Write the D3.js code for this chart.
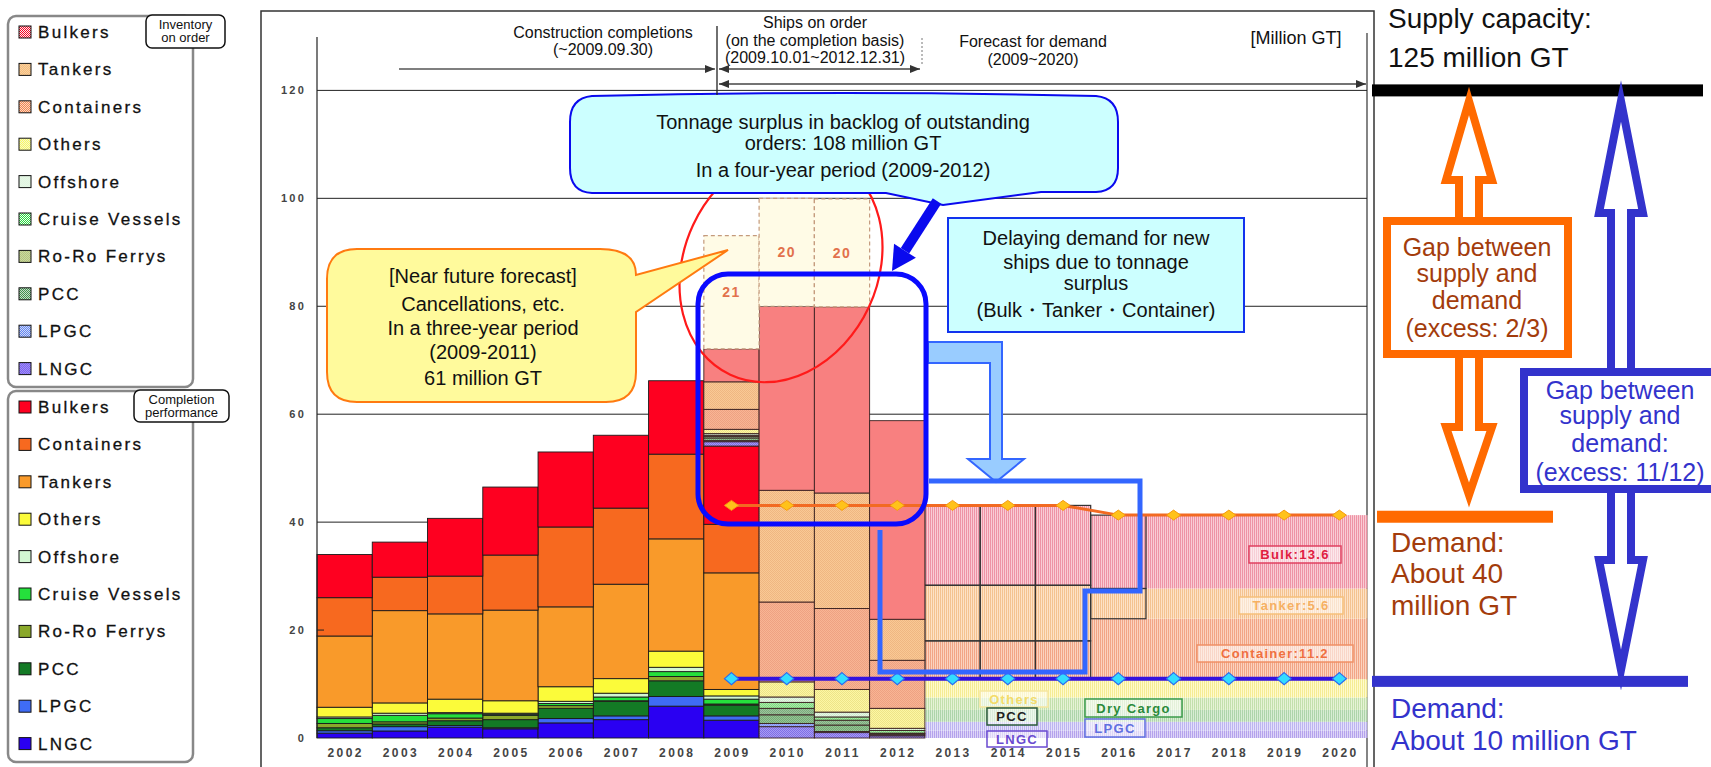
<!DOCTYPE html>
<html>
<head>
<meta charset="utf-8">
<script src="https://cdn.jsdelivr.net/npm/d3@7"></script>
<style>
  body { margin: 0; background: #fff; }
  svg { display: block; font-family: "Liberation Sans", Arial, sans-serif; }
</style>
</head>
<body>
<svg id="chart" width="1711" height="767"></svg>
<script>
// ---- data (million GT) ----
var years = ["2002","2003","2004","2005","2006","2007","2008","2009","2010","2011",
             "2012","2013","2014","2015","2016","2017","2018","2019","2020"];
var yTicks = [0, 20, 40, 60, 80, 100, 120];

// completions 2002-2009
var compYears      = ["2002","2003","2004","2005","2006","2007","2008","2009"];
var compLNGC       = [0.9, 1.3, 2.0, 1.7, 2.8, 3.4, 5.9, 3.3];
var compLPGC       = [0.45,0.8, 0.3, 0.2, 0.8, 0.7, 1.8, 0.8];
var compPCC        = [0.55,0.5, 0.9, 1.5, 1.9, 2.7, 2.9, 2.0];
var compRoRo       = [0.8, 0.4, 0.5, 0.8, 0.5, 0.1, 0.8, 0.2];
var compCruise     = [0.9, 1.2, 0.8, 0.2, 0.4, 0.7, 0.9, 0.9];
var compOffshore   = [0.3, 0.4, 0.2, 0.2, 0.4, 0.7, 0.8, 0.6];
var compOthers     = [1.8, 1.9, 2.5, 2.3, 2.7, 2.7, 3.0, 1.2];
var compTankers    = [13.2,17.1,15.8,16.8,14.8,17.5,20.8,21.6];
var compContainers = [7.1, 6.2, 7.0, 10.2,14.8,14.1,15.7,9.0];
var compBulkers    = [8.0, 6.5, 10.7,12.6,13.9,13.5,13.6,14.5];

// ships on order 2009-2012
var orderYears      = ["2009","2010","2011","2012"];
var orderLNGC       = [0.8, 2.1, 1.0, 0.4];
var orderLPGC       = [0.2, 0.6, 0.2, 0.2];
var orderPCC        = [0.5, 1.6, 1.2, 0.2];
var orderRoRo       = [0.3, 1.2, 0.9, 0.1];
var orderCruise     = [0.2, 1.1, 0.6, 0.5];
var orderOffshore   = [0.3, 1.0, 0.9, 0.4];
var orderOthers     = [0.8, 2.8, 4.2, 3.7];
var orderContainers = [3.7, 14.8,15.0,8.9];
var orderTankers    = [5.1, 20.7,21.4,7.6];
var orderBulkers    = [6.1, 34.1,34.5,36.8];
var cancelled       = [21, 20, 20, 0];

// demand forecast lines 2009-2020
var demandYears = ["2009","2010","2011","2012","2013","2014","2015","2016","2017","2018","2019","2020"];
var demandHigh  = [43.1,43.1,43.1,43.1,43.1,43.1,43.1,41.3,41.3,41.3,41.3,41.3];
var demandLow   = [11,11,11,11,11,11,11,11,11,11,11,11];

// demand forecast by type 2013-2020
var fcYears     = ["2013","2014","2015","2016","2017","2018","2019","2020"];
var fcLNGC      = [1.4,1.4,1.4,1.4,1.4,1.4,1.4,1.4];
var fcLPGC      = [1.6,1.6,1.6,1.6,1.6,1.6,1.6,1.6];
var fcPCC       = [2.2,2.2,2.2,2.2,2.2,2.2,2.2,2.2];
var fcDry       = [2.3,2.3,2.3,2.3,2.3,2.3,2.3,2.3];
var fcOthers    = [3.4,3.4,3.4,3.4,3.4,3.4,3.4,3.4];
var fcContainer = [7.1,7.1,7.1,11.2,11.2,11.2,11.2,11.2];
var fcTanker    = [10.3,10.3,10.3,5.6,5.6,5.6,5.6,5.6];
var fcBulk      = [14.8,14.8,14.8,13.6,13.6,13.6,13.6,13.6];

var orderLegend = ["Bulkers","Tankers","Containers","Others","Offshore","Cruise Vessels","Ro-Ro Ferrys","PCC","LPGC","LNGC"];
var compLegend  = ["Bulkers","Containers","Tankers","Others","Offshore","Cruise Vessels","Ro-Ro Ferrys","PCC","LPGC","LNGC"];

// ---- styles ----
var legendKey = {"Bulkers":"Bulkers","Tankers":"Tankers","Containers":"Containers","Others":"Others",
  "Offshore":"Offshore","Cruise Vessels":"Cruise","Ro-Ro Ferrys":"RoRo","PCC":"PCC","LPGC":"LPGC","LNGC":"LNGC"};
var compColor = {LNGC:"#2a00f2", LPGC:"#3f6cf5", PCC:"#137a25", RoRo:"#8aa82a", Cruise:"#25e03c",
  Offshore:"#d2f7d2", Others:"#fbfb3a", Tankers:"#f99a2a", Containers:"#f7691f", Bulkers:"#fe0020"};
var orderColor = {LNGC:["#a89cf2","#7f6ee6"], LPGC:["#a4b2fa","#7e90f0"], PCC:["#95c495","#74aa74"],
  RoRo:["#9cc49c","#7cac7c"], Cruise:["#a8eca8","#84d884"], Offshore:["#e8f8e4","#cfe9cf"],
  Others:["#fcf7a4","#eee488"], Containers:["#f8b594","#eea182"], Tankers:["#f9c995","#efb682"],
  Bulkers:["#f88080","#f47474"]};
var fcColor = {LNGC:["#ddd5f7","#b4a2ec"], LPGC:["#e3e0fa","#bdb4f0"], PCC:["#d8edd4","#aed4aa"],
  Dry:["#e6f3d6","#c3e0ac"], Others:["#fffbcc","#f5ec94"], Container:["#fbd3bf","#f2a586"],
  Tanker:["#fde2c6","#f4c290"], Bulk:["#f9ccd5","#ee93a5"]};

var svg = d3.select("#chart");
var defs = svg.append("defs");

function checker(id, bg, fg){
  var p = defs.append("pattern").attr("id", id).attr("width", 2).attr("height", 2)
    .attr("patternUnits", "userSpaceOnUse");
  p.append("rect").attr("width", 2).attr("height", 2).attr("fill", bg);
  p.append("rect").attr("width", 1).attr("height", 1).attr("fill", fg);
  p.append("rect").attr("x", 1).attr("y", 1).attr("width", 1).attr("height", 1).attr("fill", fg);
}
function stripes(id, bg, fg){
  var p = defs.append("pattern").attr("id", id).attr("width", 2).attr("height", 4)
    .attr("patternUnits", "userSpaceOnUse");
  p.append("rect").attr("width", 2).attr("height", 4).attr("fill", bg);
  p.append("rect").attr("width", 1).attr("height", 4).attr("fill", fg);
}
Object.keys(orderColor).forEach(function(k){ checker("ord-" + k, orderColor[k][0], orderColor[k][1]); });
Object.keys(compColor).forEach(function(k){ checker("leg-" + k, "#f4f4f4", compColor[k]); });
Object.keys(fcColor).forEach(function(k){ stripes("fc-" + k, fcColor[k][0], fcColor[k][1]); });

defs.append("marker").attr("id", "arr").attr("viewBox", "0 0 10 8")
  .attr("markerWidth", 10).attr("markerHeight", 8).attr("refX", 10).attr("refY", 4)
  .attr("markerUnits", "userSpaceOnUse").attr("orient", "auto-start-reverse")
  .append("path").attr("d", "M0,0L10,4L0,8Z").attr("fill", "#333");

// ---- scales ----
var x = d3.scaleBand().domain(years).range([317, 1367]).padding(0);
var y = d3.scaleLinear().domain([0, 120]).range([738, 90.4]);
var bw = x.bandwidth();
function cx(yr){ return x(yr) + bw / 2; }

// ---- frame, grid ----
svg.append("rect").attr("x", 261).attr("y", 11).attr("width", 1113).attr("height", 770)
  .attr("fill", "none").attr("stroke", "#333").attr("stroke-width", 1.5);
svg.append("line").attr("x1", 1367).attr("x2", 1367).attr("y1", 33).attr("y2", 767)
  .attr("stroke", "#333").attr("stroke-width", 1.2);

svg.append("g").selectAll("line").data(yTicks.slice(1)).join("line")
  .attr("x1", 317).attr("x2", 1367).attr("y1", function(d){ return y(d); }).attr("y2", function(d){ return y(d); })
  .attr("stroke", "#222").attr("stroke-width", 1);

// ---- forecast demand bands 2013-2020 ----
var fcKeys = ["LNGC","LPGC","PCC","Dry","Others","Container","Tanker","Bulk"];
var fcSeries = {LNGC:fcLNGC, LPGC:fcLPGC, PCC:fcPCC, Dry:fcDry, Others:fcOthers,
  Container:fcContainer, Tanker:fcTanker, Bulk:fcBulk};
var fcRows = fcYears.map(function(yr, i){
  var r = {year: yr};
  fcKeys.forEach(function(k){ r[k] = fcSeries[k][i]; });
  return r;
});
var fcStack = d3.stack().keys(fcKeys)(fcRows);

svg.append("g").selectAll("g").data(fcStack).join("g")
  .attr("fill", function(d){ return "url(#fc-" + d.key + ")"; })
  .selectAll("rect").data(function(d){ return d; }).join("rect")
  .attr("x", function(d){ return x(d.data.year) - 0.5; })
  .attr("width", bw + 1)
  .attr("y", function(d){ return y(d[1]); })
  .attr("height", function(d){ return y(d[0]) - y(d[1]); });

// outlined boxes for the first forecast years
var outlineYears = ["2013","2014","2015","2016"];
svg.append("g").selectAll("g").data(fcStack.filter(function(s){ return s.key == "Container" || s.key == "Tanker" || s.key == "Bulk"; }))
  .join("g").selectAll("rect")
  .data(function(s){ return s.filter(function(d){
    return outlineYears.indexOf(d.data.year) >= 0 && !(s.key == "Container" && d.data.year == "2016"); }); })
  .join("rect")
  .attr("x", function(d){ return x(d.data.year); }).attr("width", bw)
  .attr("y", function(d){ return y(d[1]); })
  .attr("height", function(d){ return y(d[0]) - y(d[1]); })
  .attr("fill", "none").attr("stroke", "#333").attr("stroke-width", 1.2);

// ---- completion bars ----
var compKeys = ["LNGC","LPGC","PCC","RoRo","Cruise","Offshore","Others","Tankers","Containers","Bulkers"];
var compSeries = {LNGC:compLNGC, LPGC:compLPGC, PCC:compPCC, RoRo:compRoRo, Cruise:compCruise,
  Offshore:compOffshore, Others:compOthers, Tankers:compTankers, Containers:compContainers, Bulkers:compBulkers};
var compRows = compYears.map(function(yr, i){
  var r = {year: yr};
  compKeys.forEach(function(k){ r[k] = compSeries[k][i]; });
  return r;
});
var compStack = d3.stack().keys(compKeys)(compRows);
var compTotal = {};
compRows.forEach(function(r){ compTotal[r.year] = d3.sum(compKeys, function(k){ return r[k]; }); });

svg.append("g").selectAll("g").data(compStack).join("g")
  .attr("fill", function(d){ return compColor[d.key]; })
  .selectAll("rect").data(function(d){ return d; }).join("rect")
  .attr("x", function(d){ return x(d.data.year); }).attr("width", bw)
  .attr("y", function(d){ return y(d[1]); })
  .attr("height", function(d){ return y(d[0]) - y(d[1]); })
  .attr("stroke", "#1a1a1a").attr("stroke-width", 0.9);

// ---- ships on order ----
var orderKeys = ["LNGC","LPGC","PCC","RoRo","Cruise","Offshore","Others","Containers","Tankers","Bulkers"];
var orderSeries = {LNGC:orderLNGC, LPGC:orderLPGC, PCC:orderPCC, RoRo:orderRoRo, Cruise:orderCruise,
  Offshore:orderOffshore, Others:orderOthers, Containers:orderContainers, Tankers:orderTankers, Bulkers:orderBulkers};
var orderRows = orderYears.map(function(yr, i){
  var r = {year: yr};
  orderKeys.forEach(function(k){ r[k] = orderSeries[k][i]; });
  return r;
});
var orderStack = d3.stack().keys(orderKeys)(orderRows);
function base(yr){ return compTotal[yr] || 0; }

svg.append("g").selectAll("g").data(orderStack).join("g")
  .attr("fill", function(d){ return d.key == "Bulkers" ? orderColor.Bulkers[0] : "url(#ord-" + d.key + ")"; })
  .selectAll("rect").data(function(d){ return d; }).join("rect")
  .attr("x", function(d){ return x(d.data.year); }).attr("width", bw)
  .attr("y", function(d){ return y(d[1] + base(d.data.year)); })
  .attr("height", function(d){ return y(d[0]) - y(d[1]); })
  .attr("stroke", "#3a2020").attr("stroke-width", 0.9);

// cancellations (dashed)
var orderTop = orderRows.map(function(r){ return base(r.year) + d3.sum(orderKeys, function(k){ return r[k]; }); });
var cancelRows = orderYears.map(function(yr, i){ return {year: yr, lo: orderTop[i], hi: orderTop[i] + cancelled[i], v: cancelled[i]}; })
  .filter(function(d){ return d.v > 0; });
svg.append("g").selectAll("rect").data(cancelRows).join("rect")
  .attr("x", function(d){ return x(d.year); }).attr("width", bw)
  .attr("y", function(d){ return y(d.hi); })
  .attr("height", function(d){ return y(d.lo) - y(d.hi); })
  .attr("fill", "#fffbe6").attr("stroke", "#c49a7c").attr("stroke-width", 1.2).attr("stroke-dasharray", "4,3");
svg.append("g").selectAll("text").data(cancelRows).join("text")
  .attr("x", function(d){ return cx(d.year); })
  .attr("y", function(d){ return y((d.lo + d.hi) / 2) + 5; })
  .attr("text-anchor", "middle").attr("font-size", 14).attr("font-weight", "bold")
  .attr("letter-spacing", 1.5).attr("fill", "#e2714c")
  .text(function(d){ return d.v; });

// ---- forecast band labels ----
function tag(txt, x0, y0, w, h, col, border){
  var g = svg.append("g");
  g.append("rect").attr("x", x0).attr("y", y0).attr("width", w).attr("height", h)
    .attr("fill", "rgba(255,255,255,0.55)").attr("stroke", border).attr("stroke-width", 1.5);
  g.append("text").attr("x", x0 + w / 2).attr("y", y0 + h / 2 + 4.5).attr("text-anchor", "middle")
    .attr("font-size", 13).attr("font-weight", "bold").attr("letter-spacing", 1.3)
    .attr("fill", col).text(txt);
}
tag("Bulk:13.6", 1249, 546, 92, 17, "#e02040", "#e04060");
tag("Tanker:5.6", 1239, 597, 104, 17, "#f6b062", "#f6c07a");
tag("Container:11.2", 1197, 645, 156, 17, "#f07040", "#f09066");
tag("Others", 980, 691, 68, 16, "#f4dc6a", "#f6e6a0");
tag("PCC", 987, 708, 50, 17, "#222", "#2a5a3a");
tag("LNGC", 987, 731, 60, 16, "#6a4ad0", "#6a4ad0");
tag("Dry Cargo", 1085, 699, 97, 18, "#2a8a3a", "#3a9a4a");
tag("LPGC", 1085, 719, 60, 18, "#6070e0", "#6070e0");

// ---- demand lines ----
var line = d3.line().x(function(d){ return cx(d.year); }).y(function(d){ return y(d.v); });
var highPts = demandYears.map(function(yr, i){ return {year: yr, v: demandHigh[i]}; });
var lowPts = demandYears.map(function(yr, i){ return {year: yr, v: demandLow[i]}; });

// light-blue bent arrow (behind the big overlays)
svg.append("path")
  .attr("d", "M928,342H1002V459H1024L996,482L968,459H990V363H928Z")
  .attr("fill", "#99ccff").attr("stroke", "#3366ff").attr("stroke-width", 2);

svg.append("path").attr("d", line(highPts)).attr("fill", "none").attr("stroke", "#f26a22").attr("stroke-width", 3);
svg.append("path").attr("d", line(lowPts)).attr("fill", "none").attr("stroke", "#3311dd").attr("stroke-width", 4);
svg.append("g").selectAll("path").data(highPts).join("path")
  .attr("d", "M0,-5L7,0L0,5L-7,0Z")
  .attr("transform", function(d){ return "translate(" + cx(d.year) + "," + y(d.v) + ")"; })
  .attr("fill", "#ffc21a").attr("stroke", "#f59a10").attr("stroke-width", 1);
svg.append("g").selectAll("path").data(lowPts).join("path")
  .attr("d", "M0,-6L7,0L0,6L-7,0Z")
  .attr("transform", function(d){ return "translate(" + cx(d.year) + "," + y(d.v) + ")"; })
  .attr("fill", "#33ddff").attr("stroke", "#2a6cf0").attr("stroke-width", 1.2);

svg.append("path").attr("d", "M929,481H1140V591H1085V672H880V530")
  .attr("fill", "none").attr("stroke", "#3366ff").attr("stroke-width", 5);

// ---- axes ----
var yAxis = svg.append("g").attr("transform", "translate(306,0)")
  .call(d3.axisLeft(y).tickValues(yTicks).tickSize(0).tickPadding(0));
yAxis.select(".domain").remove();
yAxis.selectAll("text").attr("font-family", "'Liberation Sans', Arial, sans-serif")
  .attr("font-size", 11).attr("font-weight", "bold").attr("letter-spacing", 2.2).attr("fill", "#444");
svg.append("line").attr("x1", 317).attr("x2", 317).attr("y1", 37).attr("y2", 738)
  .attr("stroke", "#222").attr("stroke-width", 1.2);
svg.append("line").attr("x1", 317).attr("x2", 324).attr("y1", y(20)).attr("y2", y(20))
  .attr("stroke", "#222").attr("stroke-width", 1);

var xAxis = svg.append("g").attr("transform", "translate(1,745)")
  .call(d3.axisBottom(x).tickSize(0));
xAxis.select(".domain").remove();
xAxis.selectAll("text").attr("font-family", "'Liberation Sans', Arial, sans-serif")
  .attr("font-size", 12).attr("font-weight", "bold").attr("letter-spacing", 2.4).attr("fill", "#444");

// ---- red ellipse and blue frame ----
svg.append("ellipse").attr("cx", 781).attr("cy", 266).attr("rx", 97).attr("ry", 120)
  .attr("transform", "rotate(25 781 266)")
  .attr("fill", "none").attr("stroke", "#ff1a1a").attr("stroke-width", 2.2);
svg.append("rect").attr("x", 698).attr("y", 274).attr("width", 228).attr("height", 250).attr("rx", 30)
  .attr("fill", "none").attr("stroke", "#0a0aff").attr("stroke-width", 5);

// ---- callouts ----
function lines(lst, xc, y0s, size, col, anchor){
  lst.forEach(function(t, i){
    svg.append("text").attr("x", xc).attr("y", y0s[i]).attr("text-anchor", anchor || "middle")
      .attr("font-size", size).attr("fill", col || "#111").text(t);
  });
}

svg.append("path")
  .attr("d", "M357,249H600Q636,249 636,275L728,250L636,312V372Q636,402 606,402H357Q327,402 327,372V279Q327,249 357,249Z")
  .attr("fill", "#fffa9c").attr("stroke", "#ff7a10").attr("stroke-width", 2);
lines(["[Near future forecast]", "Cancellations, etc.", "In a three-year period", "(2009-2011)", "61 million GT"],
  483, [283, 311, 335, 359, 385], 20);

svg.append("path")
  .attr("d", "M592,96Q845,90 1096,96Q1118,98 1118,122V168Q1118,191 1096,192H1041L943,205L886,193H592Q570,192 570,168V122Q570,98 592,96Z")
  .attr("fill", "#ccffff").attr("stroke", "#0a0aee").attr("stroke-width", 2);
lines(["Tonnage surplus in backlog of outstanding", "orders: 108 million GT", "In a four-year period (2009-2012)"],
  843, [129, 150, 177], 20);

// thick blue pointer
(function(){
  var sx = 937, sy = 201, tx = 892, ty = 271;
  var dx = tx - sx, dy = ty - sy, L = Math.sqrt(dx * dx + dy * dy);
  var ux = dx / L, uy = dy / L, px = -uy, py = ux;
  var bx = tx - 24 * ux, by = ty - 24 * uy;
  svg.append("line").attr("x1", sx).attr("y1", sy).attr("x2", bx).attr("y2", by)
    .attr("stroke", "#0a0aee").attr("stroke-width", 10);
  svg.append("path").attr("d", "M" + tx + "," + ty + "L" + (bx + 13 * px) + "," + (by + 13 * py) +
    "L" + (bx - 13 * px) + "," + (by - 13 * py) + "Z").attr("fill", "#0a0aee");
})();

svg.append("rect").attr("x", 948).attr("y", 218).attr("width", 296).attr("height", 114)
  .attr("fill", "#ccffff").attr("stroke", "#1133ee").attr("stroke-width", 2);
lines(["Delaying demand for new", "ships due to tonnage", "surplus", "(Bulk・Tanker・Container)"],
  1096, [245, 269, 290, 317], 20);

// ---- top period annotations ----
lines(["Construction completions", "(~2009.09.30)"], 603, [38, 55], 16);
lines(["Ships on order", "(on the completion basis)", "(2009.10.01~2012.12.31)"], 815, [28, 46, 63], 16);
lines(["Forecast for demand", "(2009~2020)"], 1033, [47, 65], 16);
lines(["[Million GT]"], 1296, [44], 18);

svg.append("line").attr("x1", 399).attr("x2", 715).attr("y1", 69).attr("y2", 69)
  .attr("stroke", "#555").attr("stroke-width", 1.3).attr("marker-end", "url(#arr)");
svg.append("line").attr("x1", 717).attr("x2", 717).attr("y1", 26).attr("y2", 95)
  .attr("stroke", "#222").attr("stroke-width", 1.3);
svg.append("line").attr("x1", 719).attr("x2", 920).attr("y1", 69).attr("y2", 69)
  .attr("stroke", "#444").attr("stroke-width", 1.3)
  .attr("marker-start", "url(#arr)").attr("marker-end", "url(#arr)");
svg.append("line").attr("x1", 719).attr("x2", 1366).attr("y1", 84).attr("y2", 84)
  .attr("stroke", "#444").attr("stroke-width", 1.3)
  .attr("marker-start", "url(#arr)").attr("marker-end", "url(#arr)");
svg.append("line").attr("x1", 922).attr("x2", 922).attr("y1", 38).attr("y2", 66)
  .attr("stroke", "#777").attr("stroke-width", 1).attr("stroke-dasharray", "2,2");

// ---- legends ----
function legend(items, y0, fillFn, title, tx, ty, tw, th){
  var g = svg.append("g");
  g.append("rect").attr("x", 8).attr("y", y0).attr("width", 185).attr("height", 371).attr("rx", 8)
    .attr("fill", "#fff").attr("stroke", "#888").attr("stroke-width", 2.5);
  var row = g.selectAll("g.it").data(items).join("g").attr("class", "it")
    .attr("transform", function(d, i){ return "translate(0," + (y0 + 16 + i * 37.4) + ")"; });
  row.append("rect").attr("x", 19).attr("y", -6).attr("width", 12).attr("height", 12)
    .attr("fill", function(d){ return fillFn(legendKey[d]); }).attr("stroke", "#111").attr("stroke-width", 1);
  row.append("text").attr("x", 38).attr("y", 6).attr("font-size", 17).attr("letter-spacing", 2.3)
    .attr("fill", "#111").attr("stroke", "#111").attr("stroke-width", 0.3).text(function(d){ return d; });
  g.append("rect").attr("x", tx).attr("y", ty).attr("width", tw).attr("height", th).attr("rx", 6)
    .attr("fill", "#fff").attr("stroke", "#111").attr("stroke-width", 1.5);
  title.forEach(function(t, i){
    g.append("text").attr("x", tx + tw / 2).attr("y", ty + 14 + i * 12.5).attr("text-anchor", "middle")
      .attr("font-size", 13).attr("fill", "#111").text(t);
  });
}
legend(orderLegend, 16, function(k){ return "url(#leg-" + k + ")"; }, ["Inventory", "on order"], 146, 15, 79, 33);
legend(compLegend, 391, function(k){ return compColor[k]; }, ["Completion", "performance"], 134, 390, 95, 32);

// ---- right panel ----
var orange = "#ff6a00", blue = "#3333cc";
svg.append("rect").attr("x", 1372).attr("y", y(120) - 6).attr("width", 331).attr("height", 12).attr("fill", "#000");
lines(["Supply capacity:", "125 million GT"], 1388, [28, 67], 28, "#111", "start");

function hollow(xc, tip, bse, end, sh, hh, col){
  var p = [[xc, tip], [xc + hh, bse], [xc + sh, bse], [xc + sh, end], [xc - sh, end], [xc - sh, bse], [xc - hh, bse]];
  svg.append("path").attr("d", "M" + p.join("L") + "Z").attr("fill", "#fff").attr("stroke", col)
    .attr("stroke-width", 8).attr("stroke-miterlimit", 10);
}
hollow(1469, 101, 180, 231, 10, 23, orange);
hollow(1469, 495, 427, 344, 10, 23, orange);
svg.append("rect").attr("x", 1387).attr("y", 221).attr("width", 181).attr("height", 133)
  .attr("fill", "#fff").attr("stroke", orange).attr("stroke-width", 8);
lines(["Gap between", "supply and", "demand", "(excess: 2/3)"], 1477, [256, 282, 309, 337], 25, "#a33c0c");
svg.append("rect").attr("x", 1377).attr("y", y(41) - 6).attr("width", 176).attr("height", 12).attr("fill", orange);
lines(["Demand:", "About 40", "million GT"], 1391, [552, 583, 615], 28, "#a33c0c", "start");

hollow(1621, 101, 213, 382, 10, 22, blue);
hollow(1621, 670, 560, 479, 10, 22, blue);
svg.append("rect").attr("x", 1524).attr("y", 372).attr("width", 200).attr("height", 117)
  .attr("fill", "#fff").attr("stroke", blue).attr("stroke-width", 8);
lines(["Gap between", "supply and", "demand:", "(excess: 11/12)"], 1620, [399, 424, 452, 481], 25, blue);
svg.append("rect").attr("x", 1372).attr("y", y(10.4) - 6).attr("width", 316).attr("height", 11).attr("fill", blue);
lines(["Demand:", "About 10 million GT"], 1391, [718, 750], 28, blue, "start");
</script>
</body>
</html>
